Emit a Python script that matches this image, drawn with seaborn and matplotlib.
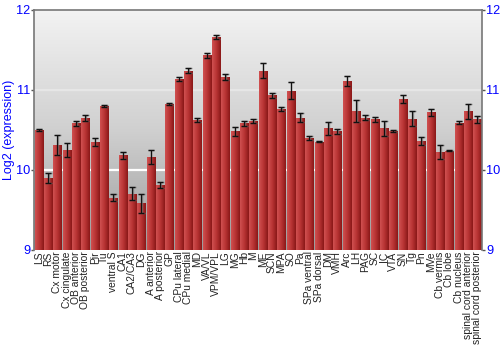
import numpy as np
import pandas as pd
import matplotlib
matplotlib.use("Agg")
import matplotlib.pyplot as plt
import seaborn as sns
from matplotlib.colors import LinearSegmentedColormap

regions = ["LS", "RS", "Cx motor", "Cx cingulate", "OB anterior", "OB posterior", "Pir", "Tu",
           "ventral S", "CA1", "CA2/CA3", "DG", "A anterior", "A posterior", "GP", "CPu lateral",
           "CPu medial", "MD", "VA/VL", "VPM/VPL", "LG", "MG", "Hb", "M", "ME", "SCN", "MPA", "SO",
           "Pa", "SPa ventral", "SPa dorsal", "DM", "VMH", "Arc", "LH", "PAG", "SC", "IC", "VTA",
           "SN", "Tg", "Pn", "MVe", "Cb vermis", "Cb lobe", "Cb nucleus", "spinal cord anterior",
           "spinal cord posterior"]
expression = [10.50, 9.90, 10.31, 10.25, 10.58, 10.65, 10.35, 10.80,
              9.65, 10.18, 9.70, 9.58, 10.16, 9.81, 10.82, 11.13,
              11.24, 10.62, 11.43, 11.66, 11.16, 10.48, 10.58, 10.61, 11.24, 10.93, 10.76, 10.99,
              10.65, 10.40, 10.35, 10.52, 10.48, 11.11, 10.73, 10.65, 10.63, 10.52, 10.48,
              10.89, 10.64, 10.36, 10.72, 10.22, 10.24, 10.59, 10.73,
              10.63]
error = [0.01, 0.06, 0.12, 0.09, 0.03, 0.04, 0.05, 0.01,
         0.045, 0.04, 0.08, 0.115, 0.085, 0.035, 0.01, 0.025,
         0.035, 0.025, 0.027, 0.03, 0.035, 0.052, 0.03, 0.02, 0.095, 0.035, 0.03, 0.11,
         0.058, 0.023, 0.008, 0.083, 0.03, 0.06, 0.137, 0.03, 0.03, 0.094, 0.012,
         0.05, 0.098, 0.052, 0.044, 0.085, 0.01, 0.02, 0.092,
         0.046]
yticks = [9, 10, 11, 12]

df = pd.DataFrame({"region": regions, "expression": expression})

sns.set_theme(style="white")
plt.rcParams["font.family"] = ["Liberation Sans", "DejaVu Sans"]

fig = plt.figure(figsize=(5, 3.5), dpi=100)
ax = fig.add_axes([0.068, 0.286, 0.896, 0.686])

# background gradient
grad = np.linspace(0, 1, 256).reshape(-1, 1)
bg = LinearSegmentedColormap.from_list("bg", ["#f3f3f3", "#d0d0d0", "#9c9c9c"])
ax.imshow(grad, cmap=bg, extent=[-0.5, len(regions) - 0.5, 9, 12], aspect="auto",
          origin="upper", zorder=0)

for y, c in [(10, "#ffffff"), (11, "#e6e6e6")]:
    ax.axhline(y, color=c, lw=1.6, zorder=1)

sns.barplot(data=df, x="region", y="expression", color="#b02a2a", width=0.88,
            saturation=1, ax=ax, zorder=2, errorbar=None, edgecolor="#8a1c1c", linewidth=0.4)

# horizontal gradient shading on bars
barcm = LinearSegmentedColormap.from_list("bar", ["#d05050", "#b83434", "#8a1818"])
hgrad = np.linspace(0, 1, 64).reshape(1, -1)
for p in ax.patches:
    x0, w = p.get_x(), p.get_width()
    im = ax.imshow(hgrad, cmap=barcm, extent=[x0, x0 + w, 9, p.get_height()],
                   aspect="auto", zorder=2.5)
    im.set_clip_path(p)

xs = np.arange(len(regions))
ax.errorbar(xs + 0.08, expression, yerr=error, fmt="none", ecolor="#777777", elinewidth=1,
            capsize=2, capthick=1, zorder=3, alpha=0.7)
ax.errorbar(xs, expression, yerr=error, fmt="none", ecolor="#111111", elinewidth=0.9,
            capsize=2, capthick=1, zorder=4)

ax.set_xlim(-0.5, len(regions) - 0.5)
ax.set_ylim(9, 12)
ax.set_yticks(yticks)
ax.set_yticklabels([str(t) for t in yticks])
ax.tick_params(axis="y", which="both", left=True, right=True, labelleft=True, labelright=True,
               length=2, width=1, color="#555555", labelcolor="#0000ff", labelsize=9.2, pad=0.8,
               direction="out")
ax.tick_params(axis="x", bottom=False, length=0, pad=1, labelsize=7.4, labelcolor="#222222")
plt.setp(ax.get_xticklabels(), rotation=90)
ax.set_xlabel("")
ax.set_ylabel("Log2 (expression)", color="#0000ff", fontsize=9)
ax.yaxis.set_label_coords(-0.042, 0.5)

for s in ["top", "left", "right"]:
    ax.spines[s].set_color("#777777")
    ax.spines[s].set_linewidth(1.2)
ax.spines["bottom"].set_visible(False)

fig.savefig("out.png", dpi=100)
